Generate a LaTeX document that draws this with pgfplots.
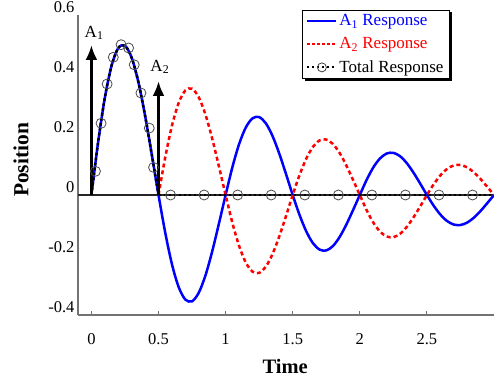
\documentclass[border=0pt]{standalone}
\usepackage{fontspec}
\setmainfont{Liberation Serif}
\usepackage{pgfplots}
\usepackage{pgfplotstable}
\pgfplotsset{compat=1.18}
\usetikzlibrary{arrows.meta,backgrounds}

\pgfplotstableread{
t a1
0.00 0
0.05 0.1762
0.10 0.3240
0.15 0.4310
0.20 0.4898
0.25 0.4978
0.30 0.4576
0.35 0.3762
0.40 0.2642
0.45 0.1343
0.50 0
0.55 -0.1254
0.60 -0.2306
0.65 -0.3068
0.70 -0.3486
0.75 -0.3543
0.80 -0.3257
0.85 -0.2678
0.90 -0.1881
0.95 -0.0956
1.00 0
1.05 0.0920
1.10 0.1690
1.15 0.2248
1.20 0.2555
1.25 0.2598
1.30 0.2388
1.35 0.1963
1.40 0.1378
1.45 0.0700
1.50 0
1.55 -0.0654
1.60 -0.1203
1.65 -0.1601
1.70 -0.1819
1.75 -0.1849
1.80 -0.1700
1.85 -0.1398
1.90 -0.0982
1.95 -0.0499
2.00 0
2.05 0.0497
2.10 0.0915
2.15 0.1217
2.20 0.1383
2.25 0.1406
2.30 0.1293
2.35 0.1063
2.40 0.0746
2.45 0.0380
2.50 0
2.55 -0.0354
2.60 -0.0651
2.65 -0.0867
2.70 -0.0985
2.75 -0.1000
2.80 -0.0920
2.85 -0.0756
2.90 -0.0531
2.95 -0.0270
3.00 0
}\Aone

\pgfplotstableread{
t a2
0.50 0
0.55 0.1254
0.60 0.2306
0.65 0.3068
0.70 0.3486
0.75 0.3543
0.80 0.3257
0.85 0.2678
0.90 0.1881
0.95 0.0956
1.00 0
1.05 -0.0920
1.10 -0.1690
1.15 -0.2248
1.20 -0.2555
1.25 -0.2598
1.30 -0.2388
1.35 -0.1963
1.40 -0.1378
1.45 -0.0700
1.50 0
1.55 0.0654
1.60 0.1203
1.65 0.1601
1.70 0.1819
1.75 0.1849
1.80 0.1700
1.85 0.1398
1.90 0.0982
1.95 0.0499
2.00 0
2.05 -0.0497
2.10 -0.0915
2.15 -0.1217
2.20 -0.1383
2.25 -0.1406
2.30 -0.1293
2.35 -0.1063
2.40 -0.0746
2.45 -0.0380
2.50 0
2.55 0.0354
2.60 0.0651
2.65 0.0867
2.70 0.0985
2.75 0.1000
2.80 0.0920
2.85 0.0756
2.90 0.0531
2.95 0.0270
3.00 0
}\Atwo

\pgfplotstableread{
t tot
0.00 0
0.05 0.1762
0.10 0.3240
0.15 0.4310
0.20 0.4898
0.25 0.4978
0.30 0.4576
0.35 0.3762
0.40 0.2642
0.45 0.1343
0.50 0
}\Totone

\pgfplotstableread{
t tot
0.030 0.079
0.072 0.239
0.117 0.370
0.163 0.459
0.221 0.501
0.277 0.490
0.319 0.434
0.369 0.340
0.431 0.223
0.463 0.092
0.59 0
0.84 0
1.09 0
1.34 0
1.59 0
1.84 0
2.09 0
2.34 0
2.59 0
2.84 0
}\Circles

\begin{document}
\begin{tikzpicture}
\begin{axis}[
  name=ax,
  scale only axis,
  width=416pt, height=300pt,
  xmin=-0.1, xmax=3, ymin=-0.4, ymax=0.6,
  axis lines*=left,
  axis line style={black!55, line width=1.2pt},
  xtick={0,0.5,1,1.5,2,2.5},
  xticklabels={0,0.5,1,1.5,2,2.5},
  ytick={-0.4,-0.2,0,0.2,0.4,0.6},
  yticklabels={-0.4,-0.2,0,0.2,0.4,0.6},
  tick align=inside,
  major tick length=4pt,
  xtick style={black!55, line width=1pt},
  ytick style={draw=none},
  ticklabel style={font=\fontsize{16.5}{19}\selectfont},
  yticklabel style={yshift=8pt},
  xticklabel style={yshift=-15pt},
  /pgf/number format/assume math mode=true,
  xlabel={\textbf{Time}},
  ylabel={\textbf{Position}},
  xlabel style={font=\fontsize{20.5}{24}\selectfont, at={(axis description cs:0.498,-0.173)}, anchor=center},
  ylabel style={font=\fontsize{21.5}{24}\selectfont, at={(axis description cs:-0.137,0.517)}, anchor=center, rotate=0},
  legend image code/.code={\draw[#1, line width=2pt] (0pt,0pt) -- (29pt,0pt);},
  legend style={name=leg, at={(rel axis cs:0.894,1.017)}, anchor=north east,
    draw=black, line width=0.8pt, fill=white,
    font=\fontsize{17}{20}\selectfont, row sep=6.5pt, inner xsep=4pt, inner ysep=2pt},
  legend cell align=left,
]
\addplot[forget plot, black!85, line width=2pt] coordinates {(-0.1,0) (3,0)};
\addplot[blue, line width=2.5pt, smooth] table[x=t, y=a1] {\Aone};
\addlegendentry{\textcolor{blue}{A\textsubscript{1} Response}}
\addplot[red, line width=2.5pt, dash pattern=on 4pt off 3pt, smooth,
  legend image code/.code={\draw[red, line width=2pt, dash pattern=on 3pt off 2pt] (0pt,0pt) -- (29pt,0pt);}]
  table[x=t, y=a2] {\Atwo};
\addlegendentry{\textcolor{red}{A\textsubscript{2} Response}}
\addplot[black, line width=2.5pt, dash pattern=on 2.5pt off 2.5pt, smooth,
  legend image code/.code={\draw[black, line width=2pt, dash pattern=on 2pt off 3pt] (0pt,0pt) -- (29pt,0pt);
    \draw[black!75, line width=0.8pt, solid] (14.5pt,0pt) circle[radius=4.5pt];}]
  table[x=t, y=tot] {\Totone};
\addlegendentry{Total Response}
\addplot[forget plot, black, line width=2.5pt, dash pattern=on 2.5pt off 2.5pt] coordinates {(0.5,0) (3,0)};
\addplot[forget plot, only marks, mark=o, mark size=5pt, mark options={black!70, line width=0.8pt}] table[x=t, y=tot] {\Circles};
\addplot[forget plot, black, line width=3.8pt, -{Latex[length=15pt,width=12pt]}] coordinates {(0,0) (0,0.5)};
\addplot[forget plot, black, line width=3.8pt, -{Latex[length=15pt,width=12pt]}] coordinates {(0.5,0) (0.5,0.38)};
\node[font=\fontsize{17}{20}\selectfont] at (axis cs:0.02,0.54) {A\textsubscript{1}};
\node[font=\fontsize{17}{20}\selectfont] at (axis cs:0.51,0.427) {A\textsubscript{2}};
\end{axis}
\begin{scope}[on background layer]
\fill[black] ([xshift=2.5pt,yshift=-2.5pt]leg.south west) rectangle ([xshift=2.5pt,yshift=-2.5pt]leg.north east);
\end{scope}
\pgfresetboundingbox
\path ([xshift=-78pt,yshift=-70pt]ax.south west) rectangle ([yshift=15pt]ax.north east);
\end{tikzpicture}
\end{document}
